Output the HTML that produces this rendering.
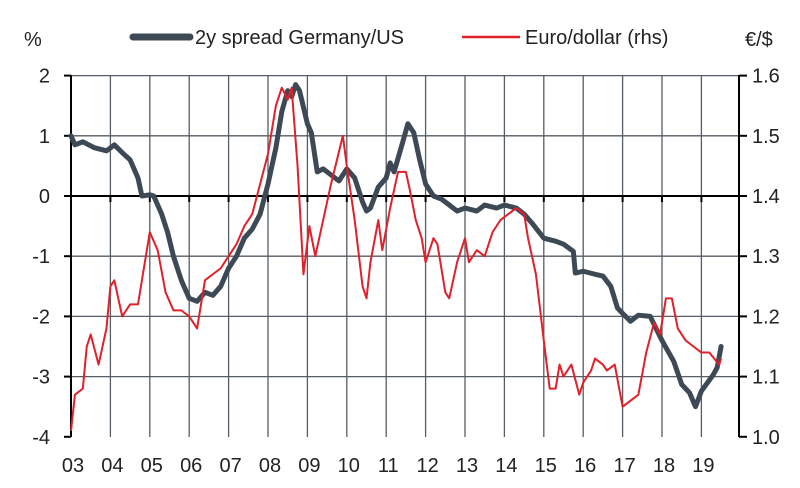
<!DOCTYPE html>
<html><head><meta charset="utf-8"><style>
body{margin:0;background:#fff;}
svg{display:block;font-family:"Liberation Sans",sans-serif;}
</style></head><body>
<svg id="c" width="800" height="488"></svg>
<script>
const yearLabels=["03","04","05","06","07","08","09","10","11","12","13","14","15","16","17","18","19"];
const leftTicks=[2,1,0,-1,-2,-3,-4];
const rightTicks=["1.6","1.5","1.4","1.3","1.2","1.1","1.0"];
const spreadX=[3.0,3.1,3.3,3.6,3.9,4.1,4.3,4.5,4.7,4.8,5.0,5.1,5.3,5.45,5.6,5.8,6.0,6.2,6.4,6.6,6.8,7.0,7.2,7.4,7.6,7.8,8.0,8.2,8.35,8.5,8.6,8.7,8.8,9.0,9.1,9.25,9.4,9.6,9.8,10.0,10.2,10.4,10.5,10.6,10.8,11.0,11.1,11.2,11.4,11.55,11.7,11.85,12.0,12.2,12.4,12.6,12.8,13.0,13.3,13.5,13.8,14.0,14.3,14.5,14.7,15.0,15.3,15.5,15.75,15.8,16.0,16.3,16.5,16.7,16.87,17.0,17.2,17.4,17.7,18.0,18.3,18.5,18.7,18.85,19.0,19.3,19.4,19.5];
const spreadY=[1.0,0.85,0.9,0.8,0.75,0.85,0.72,0.6,0.3,0.0,0.02,0.0,-0.3,-0.6,-1.0,-1.4,-1.7,-1.75,-1.6,-1.65,-1.5,-1.2,-1.0,-0.7,-0.55,-0.3,0.2,0.8,1.4,1.75,1.65,1.85,1.75,1.2,1.05,0.4,0.45,0.35,0.25,0.45,0.3,-0.1,-0.25,-0.2,0.15,0.3,0.55,0.4,0.85,1.2,1.05,0.6,0.2,0.0,-0.05,-0.15,-0.25,-0.2,-0.25,-0.15,-0.2,-0.15,-0.2,-0.3,-0.45,-0.7,-0.75,-0.8,-0.92,-1.28,-1.25,-1.3,-1.33,-1.5,-1.86,-1.95,-2.08,-1.98,-2.0,-2.4,-2.75,-3.13,-3.27,-3.5,-3.24,-2.97,-2.85,-2.5];
const eurX=[3.0,3.1,3.3,3.4,3.5,3.7,3.9,4.0,4.1,4.3,4.5,4.7,4.9,5.0,5.2,5.4,5.6,5.8,6.0,6.2,6.4,6.6,6.8,7.0,7.2,7.4,7.6,7.8,8.0,8.2,8.35,8.5,8.6,8.75,8.9,9.05,9.2,9.4,9.6,9.9,10.0,10.2,10.4,10.5,10.6,10.8,10.9,11.1,11.3,11.5,11.6,11.75,11.9,12.0,12.2,12.3,12.5,12.6,12.8,13.0,13.1,13.3,13.5,13.7,13.9,14.1,14.3,14.5,14.6,14.8,15.0,15.15,15.3,15.4,15.5,15.7,15.9,16.0,16.2,16.3,16.5,16.6,16.8,17.0,17.2,17.4,17.6,17.8,17.95,18.1,18.25,18.4,18.6,18.8,19.0,19.2,19.45,19.5];
const eurY=[1.01,1.07,1.08,1.15,1.17,1.12,1.18,1.25,1.26,1.2,1.22,1.22,1.3,1.34,1.31,1.24,1.21,1.21,1.2,1.18,1.26,1.27,1.28,1.3,1.32,1.35,1.37,1.42,1.47,1.55,1.58,1.56,1.58,1.45,1.27,1.35,1.3,1.36,1.42,1.5,1.45,1.36,1.25,1.23,1.29,1.36,1.31,1.38,1.44,1.44,1.41,1.36,1.33,1.29,1.33,1.32,1.24,1.23,1.29,1.33,1.29,1.31,1.3,1.34,1.36,1.37,1.38,1.37,1.33,1.27,1.16,1.08,1.08,1.12,1.1,1.12,1.07,1.09,1.11,1.13,1.12,1.11,1.12,1.05,1.06,1.07,1.14,1.19,1.17,1.23,1.23,1.18,1.16,1.15,1.14,1.14,1.12,1.13];

const svg=document.getElementById('c');const NS='http://www.w3.org/2000/svg';
const X0=71,XS=39.4,Y0=196,YS=60.2,L=71,R=739,T=75,B=437;
const xs=v=>X0+(v-3)*XS, ys=v=>Y0-v*YS, yr=v=>ys((v-1.4)*10);
function mk(t,a,txt){const e=document.createElementNS(NS,t);for(const k in a)e.setAttribute(k,a[k]);if(txt!==undefined)e.textContent=txt;svg.appendChild(e);return e;}
// grid
yearLabels.forEach((lab,i)=>{const x=xs(3+i);
 if(i>0){const g=mk('line',{x1:x,x2:x,y1:T,y2:B,stroke:'#555d66','stroke-width':1.3});
 
 
 const tk=mk('line',{x1:x,x2:x,y1:Y0,y2:Y0+6,stroke:'#000','stroke-width':2});
 
 }
 const t=mk('text',{x:x+2,y:472,'font-size':20,'text-anchor':'middle',fill:'#222'},lab);
 
 
});
leftTicks.forEach(v=>{const y=ys(v);
 if(v!==0&&v!==-4){const g=mk('line',{x1:L,x2:R,y1:y,y2:y,stroke:'#555d66','stroke-width':1.3});
 
 }
 const tk=mk('line',{x1:L-7,x2:L,y1:y,y2:y,stroke:'#000','stroke-width':2});
 
 
 const t=mk('text',{x:50,y:y+7,'font-size':20,'text-anchor':'end',fill:'#222'},String(v));
 
 
});
rightTicks.forEach(s=>{const y=yr(parseFloat(s));
 const tk=mk('line',{x1:R,x2:R+8,y1:y,y2:y,stroke:'#000','stroke-width':2});
 
 
 const t=mk('text',{x:752,y:y+7,'font-size':20,fill:'#222'},s);
 
 
});
let a=mk('line',{x1:L,x2:R,y1:Y0,y2:Y0,stroke:'#000','stroke-width':2});
a=mk('line',{x1:L,x2:L,y1:T,y2:B,stroke:'#000','stroke-width':2});
a=mk('line',{x1:R,x2:R,y1:T,y2:B,stroke:'#000','stroke-width':2});
// series
const ps=mk('polyline',{points:spreadX.map((x,i)=>xs(x)+','+ys(spreadY[i])).join(' '),fill:'none',stroke:'#3d4a56','stroke-width':5,'stroke-linejoin':'round','stroke-linecap':'round'});


const pe=mk('polyline',{points:eurX.map((x,i)=>xs(x)+','+yr(eurY[i])).join(' '),fill:'none',stroke:'#e0202a','stroke-width':2,'stroke-linejoin':'round'});


// legend / titles
a=mk('text',{x:24,y:46,'font-size':20,fill:'#222'},'%');
a=mk('text',{x:745,y:46,'font-size':20,fill:'#222'},'€/$');
a=mk('line',{x1:133,x2:190,y1:37,y2:37,stroke:'#3d4a56','stroke-width':7,'stroke-linecap':'round'});
a=mk('text',{x:195,y:44,'font-size':20,fill:'#222'},'2y spread Germany/US');
a=mk('line',{x1:462,x2:520,y1:37,y2:37,stroke:'#e0202a','stroke-width':2.5});
a=mk('text',{x:525,y:44,'font-size':20,fill:'#222'},'Euro/dollar (rhs)');
</script>
</body></html>
